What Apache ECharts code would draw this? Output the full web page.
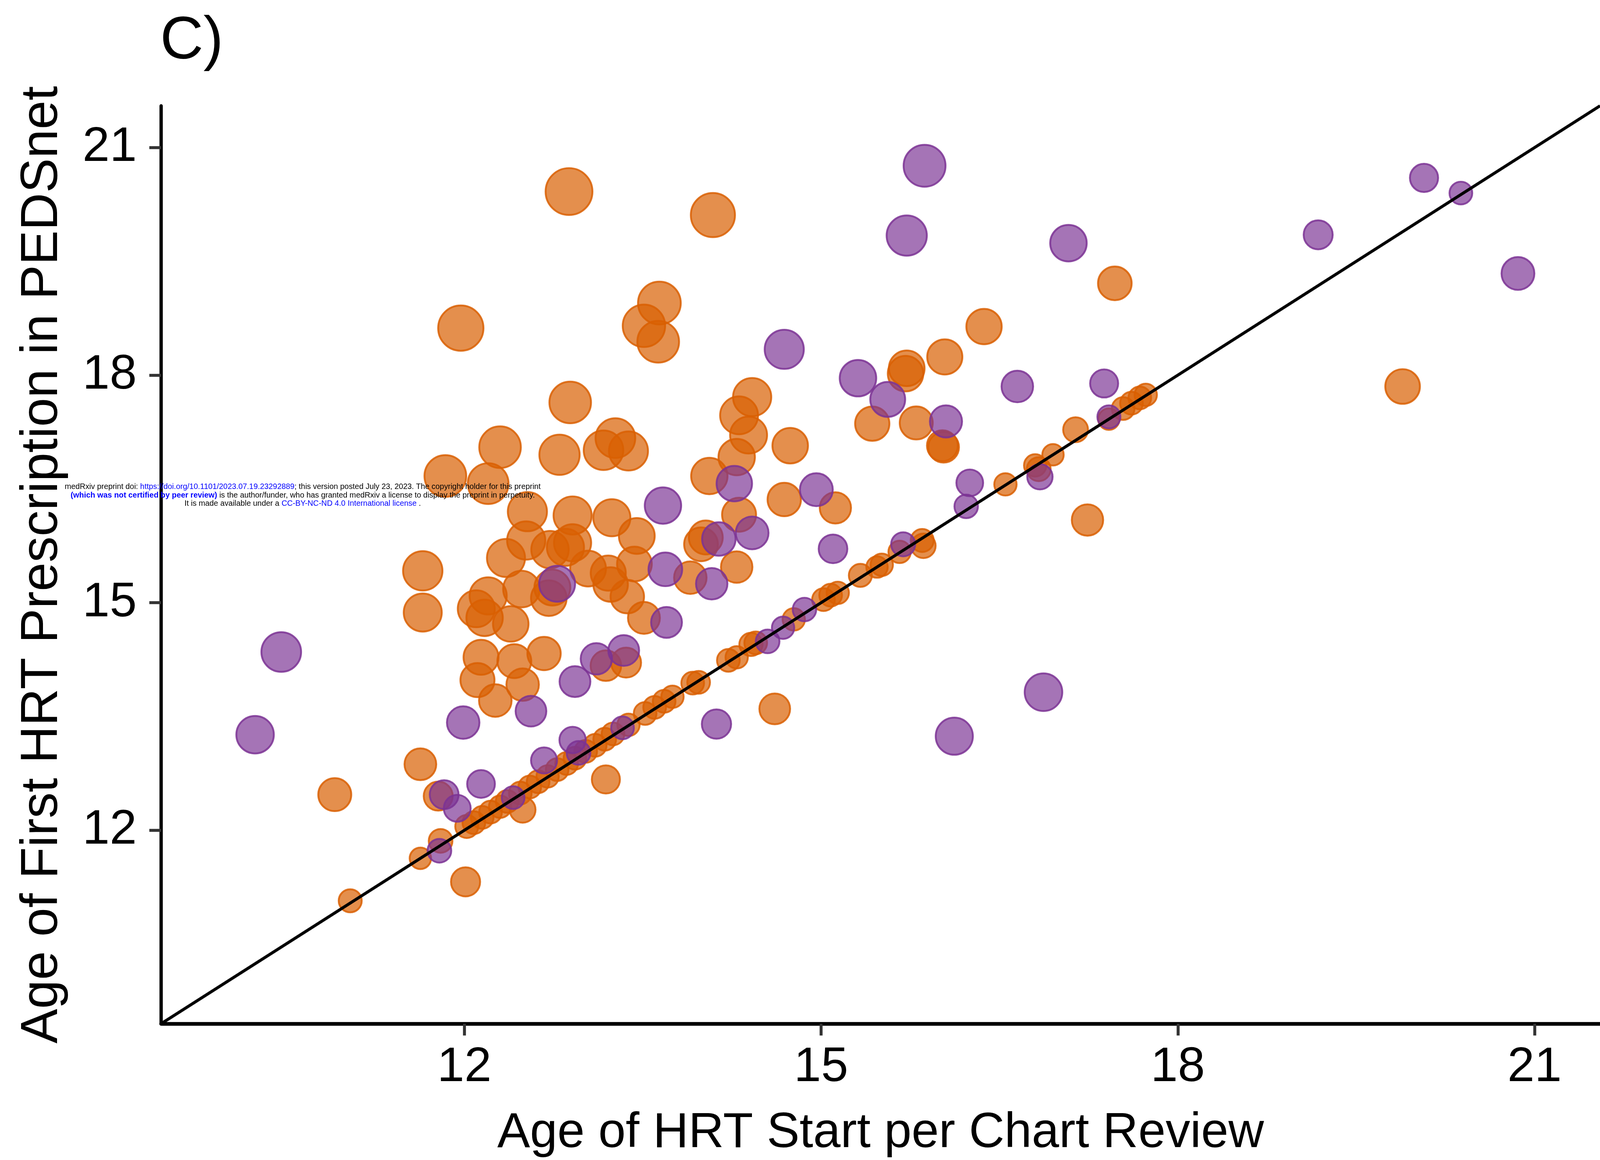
<!DOCTYPE html>
<html>
<head>
<meta charset="utf-8">
<script src="https://cdn.jsdelivr.net/npm/echarts@6/dist/echarts.min.js"></script>
<style>
html,body{margin:0;padding:0;background:#fff;overflow:hidden;}
#chart{position:fixed;left:0;top:0;width:100vw;height:100vh;}
</style>
</head>
<body>
<div id="chart"></div>
<script>
// ---- data (age per chart review, age of first HRT prescription in PEDSnet) ----
const orangeChart = [12.88,14.09,17.47,11.97,13.64,13.51,13.63,16.37,16.04,15.72,15.71,19.89,12.89,14.42,14.31,14.39,15.43,15.80,16.03,16.02,
  12.30,12.80,13.17,13.27,13.38,14.74,11.84,12.20,14.29,14.06,14.69,15.12,14.31,12.53,12.91,13.24,13.45,12.52,12.91,14.03,
  13.99,12.35,12.72,12.85,11.65,13.04,13.21,13.43,14.29,13.90,12.74,12.48,12.71,13.23,13.37,11.65,12.20,12.10,12.17,12.39,
  13.51,12.14,12.67,12.42,13.19,13.36,12.11,12.49,12.26,14.61,17.24,11.63,10.91,11.78,13.19,12.49,12.01,11.04,11.63,11.80,
  12.02,12.08,12.15,12.22,12.30,12.36,12.47,12.55,12.62,12.70,12.78,12.86,12.93,13.02,13.10,13.18,13.25,13.38,
  13.52,13.60,13.68,13.75,13.92,13.97,14.22,14.29,14.41,14.45,14.77,
  15.02,15.08,15.14,15.33,15.47,15.51,15.66,15.85,15.86,16.55,16.80,16.83,16.95,17.14,17.42,17.54,17.61,17.68,17.73];
const orangePedsnet = [20.42,20.11,19.21,18.62,18.95,18.65,18.44,18.64,18.24,18.09,18.02,17.85,17.64,17.71,17.47,17.21,17.36,17.37,17.05,17.07,
  17.05,16.95,17.01,17.17,17.00,17.07,16.67,16.57,16.92,16.67,16.36,16.25,16.16,16.20,16.15,16.12,15.88,15.82,15.79,15.86,
  15.77,15.59,15.70,15.73,15.42,15.45,15.39,15.51,15.47,15.33,15.20,15.18,15.06,15.24,15.08,14.87,15.09,14.92,14.80,14.72,
  14.80,14.28,14.33,14.23,14.17,14.21,13.98,13.92,13.71,13.60,16.09,12.87,12.47,12.45,12.67,12.27,11.32,11.07,11.63,11.86,
  12.05,12.10,12.17,12.24,12.31,12.38,12.49,12.57,12.64,12.71,12.80,12.88,12.95,13.04,13.12,13.20,13.27,13.39,
  13.54,13.62,13.70,13.76,13.94,13.95,14.24,14.28,14.45,14.47,14.78,
  15.04,15.10,15.13,15.36,15.47,15.50,15.67,15.82,15.75,16.56,16.81,16.76,16.95,17.28,17.42,17.56,17.63,17.70,17.74];
const purpleChart = [15.87,15.72,17.08,20.07,20.38,19.18,20.86,14.69,15.31,15.56,16.65,17.38,16.05,14.27,14.96,13.67,14.14,14.42,15.10,13.69,
  14.08,12.78,13.70,13.11,13.34,12.93,12.56,11.99,10.24,10.46,14.12,16.12,16.87,11.83,11.94,12.14,12.67,12.91,12.41,12.96,
  13.33,11.79,14.55,14.68,14.86,15.69,16.22,16.25,16.84,17.42];
const purplePedsnet = [20.76,19.84,19.74,20.60,20.40,19.85,19.34,18.34,17.96,17.68,17.85,17.89,17.39,16.57,16.49,16.28,15.84,15.92,15.71,15.44,
  15.25,15.25,14.74,14.26,14.37,13.96,13.57,13.42,13.26,14.35,13.40,13.24,13.82,12.47,12.29,12.61,12.92,13.19,12.43,13.02,
  13.35,11.73,14.49,14.67,14.91,15.77,16.27,16.58,16.66,17.45];
const tickValues = [12, 15, 18, 21];
const axisLimits = [9.45, 21.55];
const identityLine = [[axisLimits[0], axisLimits[0]], [axisLimits[1], axisLimits[1]]];

const FONT = '"Liberation Sans", Arial, Helvetica, sans-serif';

// layout designed for a 4329 x 2970 page, scaled to the real viewport
const W = window.innerWidth || 4329, H = window.innerHeight || 2970;
const sx = W / 4329, sy = H / 2970, s = Math.min(sx, sy);

function pairs(xs, ys){ return xs.map((x, i) => [x, ys[i]]); }
// bubble size grows with the disagreement |PEDSnet - chart review|
function bubbleSize(v){
  const d = Math.min(Math.abs(v[1] - v[0]), 7.6);
  return s * 2 * 2.761 * (10.5 + 12.5 * Math.sqrt(d / 7.6));
}

const chart = echarts.init(document.getElementById('chart'), null, {renderer: 'canvas', width: W, height: H});

const axisCommon = {
  type: 'value',
  min: axisLimits[0],
  max: axisLimits[1],
  splitLine: {show: false},
  axisLine: {show: true, lineStyle: {color: '#000', width: 9 * s}},
  axisTick: {show: true, customValues: tickValues, length: 32 * s, lineStyle: {color: '#333', width: 8 * s}},
  axisLabel: {customValues: tickValues, fontSize: 132 * s, color: '#000', fontFamily: FONT},
  nameLocation: 'middle'
};

chart.setOption({
  animation: false,
  backgroundColor: '#fff',
  title: {
    text: 'C)', left: 428 * sx, top: 26 * sy,
    textStyle: {fontSize: 162 * s, fontWeight: 'normal', color: '#000', fontFamily: FONT}
  },
  grid: {left: 436 * sx, top: 271 * sy, width: 3901 * sx, height: 2356 * sy},
  xAxis: Object.assign({}, axisCommon, {
    name: 'Age of HRT Start per Chart Review',
    nameGap: 218 * sy,
    nameTextStyle: {fontSize: 133 * sx, color: '#000', fontFamily: FONT},
    axisLine: {show: true, lineStyle: {color: '#000', width: 10 * s}},
    axisLabel: Object.assign({}, axisCommon.axisLabel, {margin: 50 * sy})
  }),
  yAxis: Object.assign({}, axisCommon, {
    name: 'Age of First HRT Prescription in PEDSnet',
    nameGap: 250 * sx,
    nameTextStyle: {fontSize: 133 * sy, color: '#000', fontFamily: FONT},
    axisLabel: Object.assign({}, axisCommon.axisLabel, {margin: 66 * sx})
  }),
  series: [
    {
      type: 'scatter',
      data: pairs(orangeChart, orangePedsnet),
      symbol: 'circle',
      symbolSize: bubbleSize,
      itemStyle: {color: 'rgba(217,95,2,0.7)', borderColor: 'rgba(217,95,2,0.85)', borderWidth: 5 * s, opacity: 1},
      z: 2
    },
    {
      type: 'scatter',
      data: pairs(purpleChart, purplePedsnet),
      symbol: 'circle',
      symbolSize: bubbleSize,
      itemStyle: {color: 'rgba(123,50,148,0.68)', borderColor: 'rgba(123,50,148,0.85)', borderWidth: 5 * s, opacity: 1},
      z: 3
    },
    {
      type: 'line',
      data: identityLine,
      symbol: 'none',
      lineStyle: {color: '#000', width: 8 * s},
      z: 4,
      silent: true
    }
  ],
  graphic: [
    {
      type: 'text', z: 100, silent: true,
      style: {
        x: 819 * sx, y: 1247 * sy, align: 'center', verticalAlign: 'middle',
        fontSize: 21 * s, fontFamily: FONT, fill: '#000',
        text: 'medRxiv preprint doi: {l|https://doi.org/10.1101/2023.07.19.23292889}; this version posted July 23, 2023. The copyright holder for this preprint',
        rich: {l: {fill: '#0000ff', fontSize: 21 * s, fontFamily: FONT}}
      }
    },
    {
      type: 'text', z: 100, silent: true,
      style: {
        x: 819 * sx, y: 1269 * sy, align: 'center', verticalAlign: 'middle',
        fontSize: 21 * s, fontFamily: FONT, fill: '#000',
        text: '{b|(which was not certified by peer review)} is the author/funder, who has granted medRxiv a license to display the preprint in perpetuity.',
        rich: {b: {fill: '#0000ff', fontWeight: 'bold', fontSize: 21 * s, fontFamily: FONT}}
      }
    },
    {
      type: 'text', z: 100, silent: true,
      style: {
        x: 819 * sx, y: 1290 * sy, align: 'center', verticalAlign: 'middle',
        fontSize: 21 * s, fontFamily: FONT, fill: '#000',
        text: 'It is made available under a {l|CC-BY-NC-ND 4.0 International license} .',
        rich: {l: {fill: '#0000ff', fontSize: 21 * s, fontFamily: FONT}}
      }
    }
  ]
});
</script>
</body>
</html>
